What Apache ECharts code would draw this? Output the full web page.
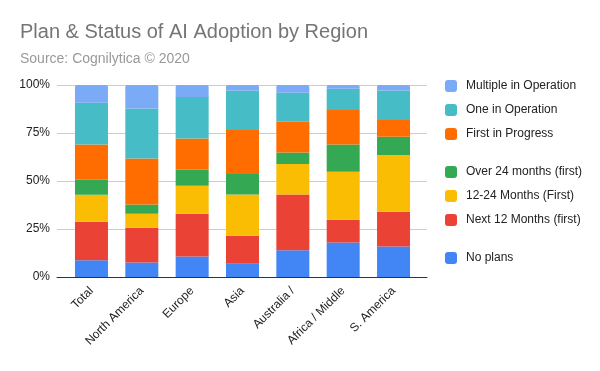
<!DOCTYPE html>
<html><head><meta charset="utf-8">
<script src="https://cdn.jsdelivr.net/npm/echarts@6/dist/echarts.min.js"></script>
<style>html,body{margin:0;padding:0;background:#fff}#c{width:600px;height:371px}</style>
</head><body><div id="c"></div>
<script>
var categories = ["Total", "North America", "Europe", "Asia", "Australia /", "Africa / Middle", "S. America"];
var noPlans      = [8.7, 7.6, 10.7, 6.9, 13.9, 18.0, 15.9];
var next12       = [20.1, 18.0, 22.2, 14.6, 29.1, 11.8, 18.1];
var months12to24 = [14.0, 7.3, 14.6, 21.5, 15.9, 25.0, 29.6];
var over24       = [7.8, 4.9, 8.3, 10.7, 5.9, 14.2, 9.5];
var firstInProg  = [18.4, 23.9, 16.3, 22.9, 16.0, 18.0, 8.7];
var oneInOp      = [21.8, 26.0, 21.7, 20.5, 15.2, 11.1, 15.3];
var multipleInOp = [9.2, 12.3, 6.2, 2.9, 4.0, 1.9, 2.9];
var yTicks = [0, 25, 50, 75, 100];

var FONT = '"Liberation Sans", Arial, sans-serif';
var seriesDefs = [
  {name: "No plans", data: noPlans, color: "#4285f4"},
  {name: "Next 12 Months (first)", data: next12, color: "#ea4335"},
  {name: "12-24 Months (First)", data: months12to24, color: "#fbbc04"},
  {name: "Over 24 months (first)", data: over24, color: "#34a853"},
  {name: "First in Progress", data: firstInProg, color: "#ff6d01"},
  {name: "One in Operation", data: oneInOp, color: "#46bdc6"},
  {name: "Multiple in Operation", data: multipleInOp, color: "#7baaf7"}
];
var chart = echarts.init(document.getElementById('c'), null, {renderer: 'canvas'});
function legend(names, top) {
  return {
    data: names, orient: 'vertical', left: 440, top: top,
    itemWidth: 12, itemHeight: 12, itemGap: 12, icon: 'roundRect',
    textStyle: {fontFamily: FONT, fontSize: 12, color: '#222', padding: [0, 0, 0, 4]},
    selectedMode: false
  };
}
chart.setOption({
  animation: false,
  title: [
    {text: "Plan & Status of AI Adoption by Region", left: 15, top: 17,
     textStyle: {fontFamily: FONT, fontSize: 20, fontWeight: 'normal', color: '#757575'}},
    {text: "Source: Cognilytica © 2020", left: 15, top: 47,
     textStyle: {fontFamily: FONT, fontSize: 14, fontWeight: 'normal', color: '#999'}}
  ],
  legend: [
    legend(["Multiple in Operation", "One in Operation", "First in Progress"], 75),
    legend(["Over 24 months (first)", "12-24 Months (First)", "Next 12 Months (first)"], 161),
    legend(["No plans"], 247)
  ],
  grid: [
    {left: 57, width: 370, top: 85, height: 192},
    {left: 66.3, width: 352.4, top: 85, height: 192}
  ],
  xAxis: [
    {type: 'category', gridIndex: 0, data: [''], show: true,
     axisLine: {show: true, lineStyle: {color: '#333', width: 1}},
     axisTick: {show: false}, axisLabel: {show: false}},
    {type: 'category', gridIndex: 1, data: categories,
     axisLine: {show: false}, axisTick: {show: false},
     axisLabel: {rotate: 45, interval: 0, margin: 12, fontFamily: FONT, fontSize: 12, color: '#222'}}
  ],
  yAxis: [
    {type: 'value', gridIndex: 0, min: 0, max: 100, interval: 25,
     axisLine: {show: false}, axisTick: {show: false},
     axisLabel: {formatter: function (v) { return yTicks.indexOf(v) >= 0 ? v + '%' : ''; },
       margin: 7, fontFamily: FONT, fontSize: 12, color: '#222'},
     splitLine: {lineStyle: {color: '#ccc', width: 1}}},
    {type: 'value', gridIndex: 1, min: 0, max: 100, show: false, splitLine: {show: false}}
  ],
  series: seriesDefs.map(function (s, i) {
    return {
      name: s.name, type: 'bar', stack: 'all', xAxisIndex: 1, yAxisIndex: 1,
      data: s.data, barWidth: 33,
      itemStyle: {color: s.color, borderRadius: i === seriesDefs.length - 1 ? [2, 2, 0, 0] : 0}
    };
  })
});
</script></body></html>
